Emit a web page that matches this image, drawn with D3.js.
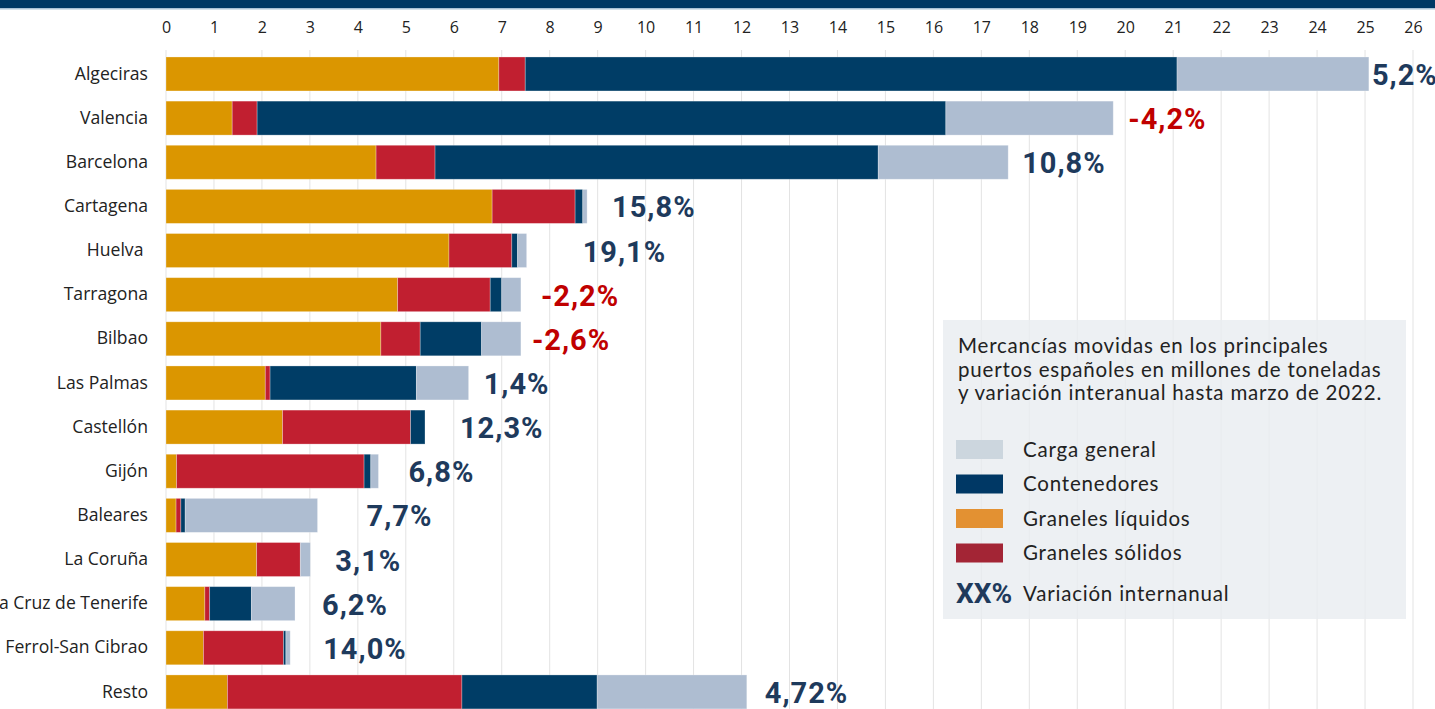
<!DOCTYPE html>
<html>
<head>
<meta charset="utf-8">
<script src="https://cdn.jsdelivr.net/npm/d3@7"></script>
<style>
  html, body { margin: 0; padding: 0; background: #fff; }
  svg { display: block; }
</style>
</head>
<body>
<svg id="chart" width="1435" height="709"></svg>
<script>
// ---- data ----
const ports = ["Algeciras", "Valencia", "Barcelona", "Cartagena", "Huelva ", "Tarragona", "Bilbao",
  "Las Palmas", "Castellón", "Gijón", "Baleares", "La Coruña", "Santa Cruz de Tenerife",
  "Ferrol-San Cibrao", "Resto"];
const granelesLiquidos = [6.94, 1.38, 4.38, 6.80, 5.90, 4.83, 4.48, 2.07, 2.43, 0.22, 0.21, 1.89, 0.81, 0.78, 1.28];
const granelesSolidos  = [0.55, 0.52, 1.23, 1.73, 1.31, 1.93, 0.82, 0.10, 2.67, 3.91, 0.10, 0.91, 0.10, 1.67, 4.89];
const contenedores     = [13.59, 14.36, 9.24, 0.16, 0.12, 0.24, 1.28, 3.05, 0.30, 0.14, 0.09, 0.00, 0.87, 0.05, 2.82];
const cargaGeneral     = [4.00, 3.49, 2.71, 0.09, 0.19, 0.40, 0.82, 1.09, 0.00, 0.16, 2.76, 0.21, 0.91, 0.09, 3.12];
const variacion = ["5,2%", "-4,2%", "10,8%", "15,8%", "19,1%", "-2,2%", "-2,6%", "1,4%", "12,3%",
  "6,8%", "7,7%", "3,1%", "6,2%", "14,0%", "4,72%"];
const xTicks = d3.range(0, 27);
const seriesKeys = ["liquidos", "solidos", "contenedores", "general"];
const legendLabels = ["Carga general", "Contenedores", "Graneles líquidos", "Graneles sólidos"];
const titleLines = ["Mercancías movidas en los principales",
  "puertos españoles en millones de toneladas",
  "y variación interanual hasta marzo de 2022."];
const legendNote = "Variación internanual";

// ---- layout / style ----
const labelGap = [3, 15, 14, 25, 56, 20, 11, 15, 35, 30, 49, 25, 27, 33, 18];
const barColors = {liquidos: "#DB9600", solidos: "#C11F30", contenedores: "#003D66", general: "#AEBDD1"};
const legendColors = ["#CCD6DE", "#003865", "#E39132", "#A32535"];

const svg = d3.select("#chart");

const table = ports.map((p, i) => ({
  port: p, liquidos: granelesLiquidos[i], solidos: granelesSolidos[i],
  contenedores: contenedores[i], general: cargaGeneral[i]
}));
const stack = d3.stack().keys(seriesKeys)(table);

const x = d3.scaleLinear().domain([0, 26]).range([166, 1413]);
const y = d3.scaleBand().domain(ports).range([51.9, 714]).paddingInner(0.23).paddingOuter(0.115);

// top band
svg.append("rect").attr("x", 0).attr("y", 0).attr("width", 1435).attr("height", 8).attr("fill", "#003865");
svg.append("rect").attr("x", 0).attr("y", 8).attr("width", 1435).attr("height", 1.5).attr("fill", "#A9C1D6");

// grid
svg.append("g").selectAll("line").data(xTicks).join("line")
  .attr("x1", d => x(d)).attr("x2", d => x(d))
  .attr("y1", 50).attr("y2", 709)
  .attr("stroke", "#E3E3E3").attr("stroke-width", 1);

// top axis
const axis = d3.axisTop(x).tickValues(xTicks).tickSize(0).tickPadding(0).tickFormat(d3.format("d"));
const ag = svg.append("g").attr("transform", "translate(0,33)").call(axis);
ag.select(".domain").remove();
ag.selectAll("text").attr("font-family", "Open Sans").attr("font-size", 16).attr("fill", "#222");

// category axis
const yAxis = d3.axisLeft(y).tickSize(0).tickPadding(18);
const yg = svg.append("g").attr("transform", "translate(166,0)").call(yAxis);
yg.select(".domain").remove();
yg.selectAll("text").attr("font-family", "Open Sans").attr("font-size", 17.6).attr("fill", "#222")
  .style("white-space", "pre");

// bars
svg.append("g").selectAll("g").data(stack).join("g")
  .attr("fill", d => barColors[d.key])
  .selectAll("rect").data(d => d).join("rect")
  .attr("x", d => x(d[0])).attr("width", d => Math.max(0, x(d[1]) - x(d[0])))
  .attr("y", d => y(d.data.port)).attr("height", y.bandwidth())
  .attr("stroke", "rgba(255,255,255,0.35)").attr("stroke-width", 0.8);

// variation labels
const totals = table.map(d => d.liquidos + d.solidos + d.contenedores + d.general);
svg.append("g").selectAll("text").data(variacion).join("text")
  .attr("x", (d, i) => x(totals[i]) + labelGap[i])
  .attr("y", (d, i) => y(ports[i]) + y.bandwidth() / 2 + 11)
  .attr("font-family", "Roboto").attr("font-weight", 700).attr("font-size", 29)
  .attr("letter-spacing", 1)
  .attr("fill", d => d.startsWith("-") ? "#C00000" : "#1E3A5C")
  .text(d => d);

// legend box
const lg = svg.append("g");
lg.append("rect").attr("x", 943).attr("y", 320).attr("width", 463).attr("height", 299)
  .attr("fill", "#E8ECF0").attr("fill-opacity", 0.8);
lg.selectAll("text.t").data(titleLines).join("text").attr("class", "t")
  .attr("x", 958).attr("y", (d, i) => 353 + i * 23.5)
  .attr("font-family", "Lato").attr("font-size", 20.5).attr("letter-spacing", 0.8).attr("fill", "#222")
  .text(d => d);
const items = lg.selectAll("g.item").data(legendLabels).join("g").attr("class", "item")
  .attr("transform", (d, i) => `translate(956,${440 + i * 34.5})`);
items.append("rect").attr("width", 47).attr("height", 19).attr("fill", (d, i) => legendColors[i]);
items.append("text").attr("x", 67).attr("y", 16.5).attr("font-family", "Lato").attr("font-size", 20.5)
  .attr("letter-spacing", 0.8).attr("fill", "#222").text(d => d);
lg.append("text").attr("x", 956).attr("y", 603).attr("font-family", "Roboto").attr("font-weight", 700)
  .attr("font-size", 28).attr("fill", "#1E3A5C").text("XX%");
lg.append("text").attr("x", 1023).attr("y", 601).attr("font-family", "Lato").attr("font-size", 20.5)
  .attr("letter-spacing", 0.8).attr("fill", "#222").text(legendNote);
</script>
</body>
</html>
